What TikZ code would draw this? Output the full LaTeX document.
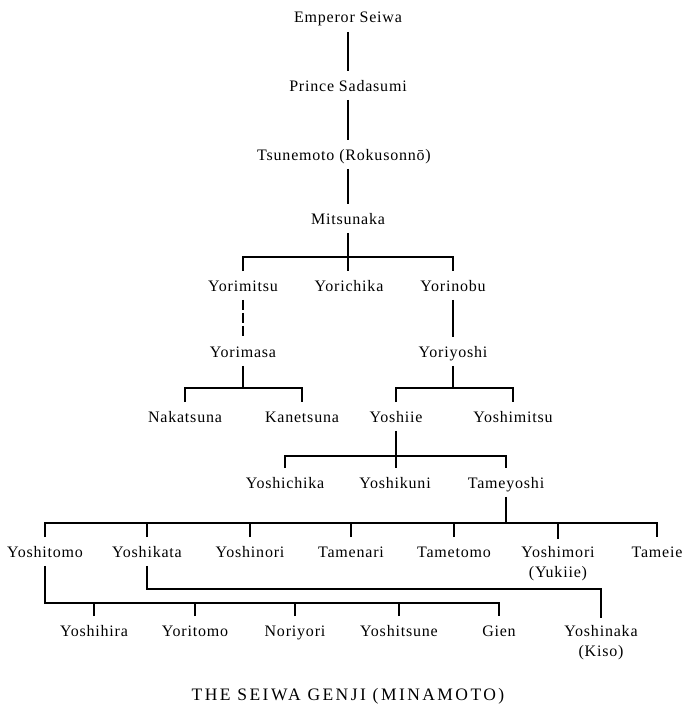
\documentclass[tikz,border=0pt]{standalone}
\usepackage{fontspec}
\setmainfont{Liberation Serif}[LetterSpace=5]
\begin{document}
\begin{tikzpicture}[x=1pt,y=-1pt,
  line width=1.8pt,
  person/.style={anchor=base, font=\fontsize{16}{20}\selectfont, text height=13pt, text depth=2pt, inner xsep=2pt, inner ysep=6pt},
  twoline/.style={anchor=north, font=\fontsize{16}{20}\selectfont, align=center, inner xsep=2pt, inner ysep=6pt},
  caption/.style={anchor=base, font=\fontsize{17.5}{20}\selectfont\addfontfeature{LetterSpace=14}}]
\fill[white] (0,0) rectangle (690,712);
\useasboundingbox (0,0) rectangle (690,712);
% generations
\node[person] (seiwa) at (348,23) {Emperor Seiwa};
\node[person] (sadasumi) at (348,91) {Prince Sadasumi};
\node[person] (tsune) at (344,160) {Tsunemoto (Rokusonnō)};
\node[person] (mitsunaka) at (348,224) {Mitsunaka};
\node[person] (yorimitsu) at (243,291) {Yorimitsu};
\node[person] (yorichika) at (349,291) {Yorichika};
\node[person] (yorinobu) at (453,291) {Yorinobu};
\node[person] (yorimasa) at (243,357) {Yorimasa};
\node[person] (yoriyoshi) at (453,357) {Yoriyoshi};
\node[person] (nakatsuna) at (185,422) {Nakatsuna};
\node[person] (kanetsuna) at (302,422) {Kanetsuna};
\node[person] (yoshiie) at (396,422) {Yoshiie};
\node[person] (yoshimitsu) at (513,422) {Yoshimitsu};
\node[person] (yoshichika) at (285,488) {Yoshichika};
\node[person] (yoshikuni) at (395,488) {Yoshikuni};
\node[person] (tameyoshi) at (506,488) {Tameyoshi};
\node[person] (yoshitomo) at (45,557) {Yoshitomo};
\node[person] (yoshikata) at (147,557) {Yoshikata};
\node[person] (yoshinori) at (250,557) {Yoshinori};
\node[person] (tamenari) at (351,557) {Tamenari};
\node[person] (tametomo) at (454,557) {Tametomo};
\node[twoline] (yoshimori) at (558,539) {Yoshimori\\(Yukiie)};
\node[person] (tameie) at (657,557) {Tameie};
\node[person] (yoshihira) at (94,636) {Yoshihira};
\node[person] (yoritomo) at (195,636) {Yoritomo};
\node[person] (noriyori) at (295,636) {Noriyori};
\node[person] (yoshitsune) at (399,636) {Yoshitsune};
\node[person] (gien) at (499,636) {Gien};
\node[twoline] (yoshinaka) at (601,618) {Yoshinaka\\(Kiso)};
\node[caption] (title) at (348,700) {THE SEIWA GENJI (MINAMOTO)};
% connectors
\draw (seiwa.south) -- (sadasumi.north);
\draw (sadasumi.south) -- (tsune.north -| sadasumi.south);
\draw (tsune.south -| sadasumi.south) -- (mitsunaka.north);
\coordinate (b1) at (348,257);
\draw (mitsunaka.south) -- (yorichika.north -| mitsunaka.south);
\draw (yorimitsu.north) |- (b1) -| (yorinobu.north);
\draw[dash pattern=on 10pt off 3pt] (yorimitsu.south) -- (yorimasa.north);
\draw (yorinobu.south) -- (yoriyoshi.north);
\coordinate (b2) at (243,388);
\draw (yorimasa.south) -- (b2);
\draw (nakatsuna.north) |- (b2) -| (kanetsuna.north);
\coordinate (b3) at (453,388);
\draw (yoriyoshi.south) -- (b3);
\draw (yoshiie.north) |- (b3) -| (yoshimitsu.north);
\coordinate (b4) at (396,456);
\draw (yoshiie.south) -- (yoshikuni.north -| yoshiie.south);
\draw (yoshichika.north) |- (b4) -| (tameyoshi.north);
\coordinate (b5) at (506,523);
\draw (tameyoshi.south) -- (b5);
\draw (yoshitomo.north) |- (b5) -| (tameie.north);
\foreach \n in {yoshikata,yoshinori,tamenari,tametomo,yoshimori}
  \draw (\n.north) -- (\n.north |- b5);
\coordinate (b6) at (147,589);
\draw (yoshikata.south) -- (b6) -| (yoshinaka.north);
\coordinate (b7) at (45,603);
\draw (yoshitomo.south) -- (b7) -| (gien.north);
\foreach \n in {yoshihira,yoritomo,noriyori,yoshitsune}
  \draw (\n.north) -- (\n.north |- b7);
\end{tikzpicture}
\end{document}
